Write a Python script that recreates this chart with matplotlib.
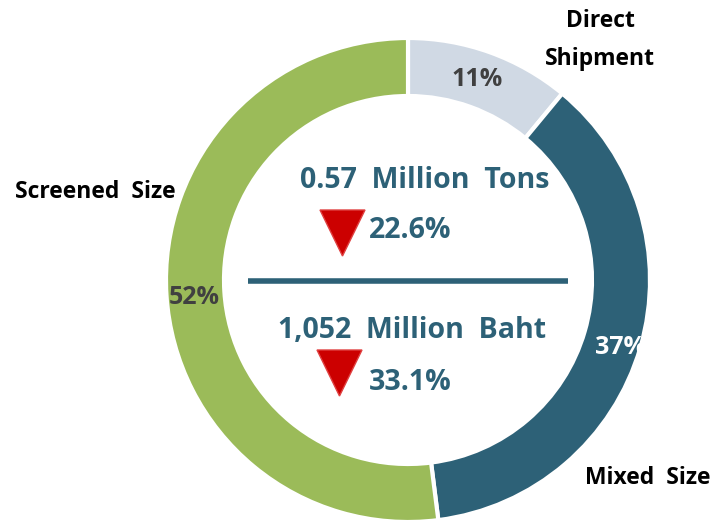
import matplotlib.pyplot as plt
from matplotlib.patches import Polygon

plt.rcParams['font.family'] = ['Open Sans', 'DejaVu Sans']

# data
labels = ['Direct Shipment', 'Mixed Size', 'Screened Size']
shares = [11, 37, 52]
colors = ['#D0D9E4', '#2D6177', '#9BBB59']
pct_colors = ['#404040', 'white', '#404040']

volume_text = '0.57  Million  Tons'
volume_change = '22.6%'
value_text = '1,052  Million  Baht'
value_change = '33.1%'

teal = '#2D6177'

fig = plt.figure(figsize=(7.15, 5.22), dpi=100)
ax = fig.add_axes([0, 0, 1, 1])

H = 522
cx, cy, R = 408, H - 280, 242

wedges, texts, autotexts = ax.pie(
    shares, colors=colors, startangle=90, counterclock=False,
    center=(cx, cy), radius=R, frame=True,
    autopct=lambda p: f'{p:.0f}%', pctdistance=0.87,
    wedgeprops=dict(width=58, edgecolor='white', linewidth=3))
ax.set_xlim(0, 715)
ax.set_ylim(0, 522)
ax.set_aspect('equal')
ax.axis('off')

for t, c in zip(autotexts, pct_colors):
    t.set_color(c)
    t.set_fontsize(18)
    t.set_fontweight('bold')
autotexts[0].set_position((477, H - 80))
autotexts[1].set_position((620, H - 347))
autotexts[2].set_position((194, H - 297))

# category labels
ax.text(600, H - 40, 'Direct\nShipment', ha='center', va='center',
        fontsize=16.5, fontweight='bold', linespacing=1.75)
ax.text(95, H - 192, 'Screened  Size', ha='center', va='center',
        fontsize=16.5, fontweight='bold')
ax.text(648, H - 478, 'Mixed  Size', ha='center', va='center',
        fontsize=16.5, fontweight='bold')

# center summary
fs = 20.5
ax.text(425, H - 180, volume_text, ha='center', va='center',
        fontsize=fs, fontweight='bold', color=teal)
ax.text(410, H - 231, volume_change, ha='center', va='center',
        fontsize=fs, fontweight='bold', color=teal)
ax.text(412, H - 331, value_text, ha='center', va='center',
        fontsize=fs, fontweight='bold', color=teal)
ax.text(410, H - 382, value_change, ha='center', va='center',
        fontsize=fs, fontweight='bold', color=teal)

ax.plot([248, 568], [H - 281, H - 281], color=teal, lw=4, solid_capstyle='butt')

for x0, y0 in [(320, 210), (317, 350)]:
    tri = Polygon([(x0, H - y0), (x0 + 45, H - y0), (x0 + 22.5, H - y0 - 46)],
                  closed=True, facecolor='#CC0000', edgecolor='#E04040', lw=1)
    ax.add_patch(tri)

fig.savefig('out.png', dpi=100)
